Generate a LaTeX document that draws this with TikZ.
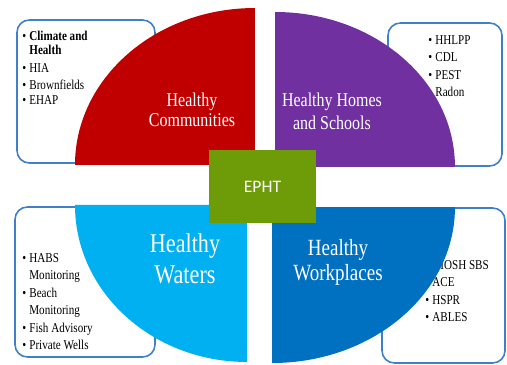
\documentclass[tikz,border=0pt]{standalone}
\usepackage{fontspec}
\setmainfont{Liberation Serif}[FakeStretch=0.82]
\newfontfamily\ephtfont{Carlito}

\definecolor{commred}{HTML}{C00000}
\definecolor{homepurple}{HTML}{7030A0}
\definecolor{waterblue}{HTML}{00B0F0}
\definecolor{workblue}{HTML}{0070C0}
\definecolor{ephtgreen}{HTML}{6E9B08}
\definecolor{boxline}{HTML}{3F80C8}

% bullet and hanging indent for the program lists
\newcommand{\bul}{\makebox[4pt][l]{\textbullet}}
\newcommand{\ind}{\hspace*{4pt}}

\tikzset{
  itembox/.style={draw=boxline, line width=0.9pt, fill=white, rounded corners=7pt},
  % lists are placed by the baseline of their last line
  itemlist/.style={anchor=base west, align=left, inner sep=0pt, font=\fontsize{7.7}{9.9}\selectfont},
  quadlabel/.style={text=white, align=center, inner sep=0pt},
}

\begin{document}
\begin{tikzpicture}[x=0.02cm, y=0.02cm]
\useasboundingbox (0,0) rectangle (507,365);

% program boxes, partly hidden by the quadrants
\draw[itembox] (17,202) rectangle (155,345);
\draw[itembox] (388,199) rectangle (502,342);
\draw[itembox] (15,8) rectangle (155,158);
\draw[itembox] (382,2) rectangle (505,157);

\node[itemlist] (comm list) at (22,260.5) {\bul\textbf{Climate and}\\[-1.5pt]
  \ind\textbf{Health}\\ \bul HIA\\ \bul Brownfields\\[-1.5pt] \bul EHAP};
\node[itemlist] (home list) at (428,268.5) {\bul HHLPP\\ \bul CDL\\ \bul PEST\\ \bul Radon};
\node[itemlist] (water list) at (22,15.5) {\bul HABS\\ \ind Monitoring\\ \bul Beach\\
  \ind Monitoring\\ \bul Fish Advisory\\ \bul Private Wells};
\node[itemlist] (work list) at (425,43.5) {\bul NIOSH SBS\\ \bul ACE\\ \bul HSPR\\ \bul ABLES};

% the four quadrants
\fill[commred] (255,200) -- (75,200) arc[start angle=180, end angle=90, x radius=3.6cm, y radius=3.14cm] -- cycle;
\fill[homepurple] (275,198) -- (275,353) arc[start angle=90, end angle=0, x radius=3.6cm, y radius=3.1cm] -- cycle;
\fill[waterblue] (247,160) -- (75,160) arc[start angle=180, end angle=270, x radius=3.44cm, y radius=3.14cm] -- cycle;
\fill[workblue] (272,158) -- (272,2) arc[start angle=270, end angle=360, x radius=3.66cm, y radius=3.12cm] -- cycle;

\node[quadlabel, font=\fontsize{11.1}{11.4}\selectfont] (communities) at (192,255) {Healthy\\Communities};
\node[quadlabel, font=\fontsize{11.1}{13}\selectfont] (homes) at (332,254) {Healthy Homes\\and Schools};
\node[quadlabel, font=\fontsize{15.4}{18}\selectfont] (waters) at (185,106) {Healthy\\Waters};
\node[quadlabel, font=\fontsize{13.2}{14.2}\selectfont] (workplaces) at (338,103) {Healthy\\Workplaces};

% centre block
\node[fill=ephtgreen, minimum width=2.14cm, minimum height=1.46cm, inner sep=0pt,
  text=white, font=\ephtfont\fontsize{10}{12}\selectfont] (epht) at (262.5,178.5) {EPHT};

\end{tikzpicture}
\end{document}
